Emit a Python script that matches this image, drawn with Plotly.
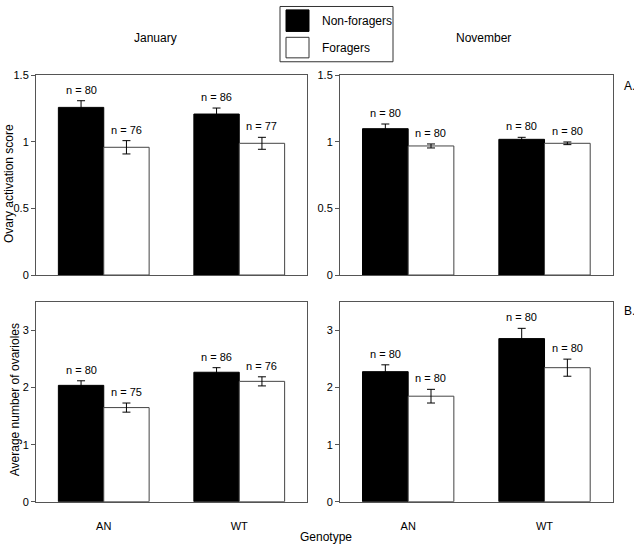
import plotly.graph_objects as go

# ---------------- data ----------------
genotypes = ["AN", "WT"]
series_names = ["Non-foragers", "Foragers"]
months = ["January", "November"]

# Ovary activation score
jan_act_nf = [1.26, 1.21]
jan_act_nf_err = [0.05, 0.045]
jan_act_f = [0.96, 0.99]
jan_act_f_err = [0.05, 0.045]
nov_act_nf = [1.10, 1.02]
nov_act_nf_err = [0.035, 0.015]
nov_act_f = [0.97, 0.99]
nov_act_f_err = [0.015, 0.01]

# Average number of ovarioles
jan_ova_nf = [2.04, 2.27]
jan_ova_nf_err = [0.08, 0.08]
jan_ova_f = [1.65, 2.11]
jan_ova_f_err = [0.08, 0.08]
nov_ova_nf = [2.28, 2.86]
nov_ova_nf_err = [0.12, 0.18]
nov_ova_f = [1.85, 2.35]
nov_ova_f_err = [0.12, 0.15]

# sample sizes
jan_act_nf_n = [80, 86]
jan_act_f_n = [76, 77]
nov_act_nf_n = [80, 80]
nov_act_f_n = [80, 80]
jan_ova_nf_n = [80, 86]
jan_ova_f_n = [75, 76]
nov_ova_nf_n = [80, 80]
nov_ova_f_n = [80, 80]

# ---------------- figure ----------------
W, H = 634, 551
FONT = "Liberation Sans, Arial, Helvetica, sans-serif"
AXC = "#555555"

fig = go.Figure()

panels = [
    ("x", "y", jan_act_nf, jan_act_nf_err, jan_act_nf_n, jan_act_f, jan_act_f_err, jan_act_f_n),
    ("x2", "y2", nov_act_nf, nov_act_nf_err, nov_act_nf_n, nov_act_f, nov_act_f_err, nov_act_f_n),
    ("x3", "y3", jan_ova_nf, jan_ova_nf_err, jan_ova_nf_n, jan_ova_f, jan_ova_f_err, jan_ova_f_n),
    ("x4", "y4", nov_ova_nf, nov_ova_nf_err, nov_ova_nf_n, nov_ova_f, nov_ova_f_err, nov_ova_f_n),
]

annotations = []
for i, (xa, ya, nf, nfe, nfn, f, fe, fn) in enumerate(panels):
    for name, vals, errs, ns, fill, lc, shift in [
        (series_names[0], nf, nfe, nfn, "black", "black", -22.7),
        (series_names[1], f, fe, fn, "white", "#444444", 22.7),
    ]:
        fig.add_trace(go.Bar(
            x=genotypes, y=vals, name=name, xaxis=xa, yaxis=ya,
            marker=dict(color=fill, line=dict(color=lc, width=1)),
            error_y=dict(type="data", array=errs, visible=True,
                         color="black", thickness=1, width=4),
            showlegend=False, offsetgroup=name,
        ))
        for g, v, e, n in zip(genotypes, vals, errs, ns):
            annotations.append(dict(
                x=g, y=v + e, xref=xa, yref=ya, xshift=shift, yshift=3,
                yanchor="bottom", xanchor="center", showarrow=False,
                text=f"n = {n}", font=dict(size=11, color="black", family=FONT),
            ))

def xd(a, b):
    return [a / W, b / W]

def yd(top, bottom):
    return [(H - bottom) / H, (H - top) / H]

xl = xd(36, 307)
xr = xd(340, 612.7)
yt = yd(71, 275)
yb = yd(302.7, 506.7)

common_x = dict(showline=True, mirror=True, linecolor=AXC, linewidth=1,
                showgrid=False, zeroline=False, ticks="", range=[-0.5, 1.5],
                tickfont=dict(size=11, color="black", family=FONT))
common_y = dict(showline=True, mirror=True, linecolor=AXC, linewidth=1,
                showgrid=False, zeroline=False, ticks="outside", ticklen=4,
                tickcolor=AXC, tickfont=dict(size=11, color="black", family=FONT))

fig.update_layout(
    width=W, height=H,
    margin=dict(l=0, r=0, t=0, b=0),
    paper_bgcolor="white", plot_bgcolor="white",
    barmode="group", bargap=0.33, bargroupgap=0,
    font=dict(family=FONT, size=11, color="black"),
    xaxis=dict(domain=xl, anchor="y", showticklabels=False, **common_x),
    xaxis2=dict(domain=xr, anchor="y2", showticklabels=False, **common_x),
    xaxis3=dict(domain=xl, anchor="y3", showticklabels=True, ticklabelstandoff=14, **common_x),
    xaxis4=dict(domain=xr, anchor="y4", showticklabels=True, ticklabelstandoff=14, **common_x),
    yaxis=dict(domain=yt, anchor="x", range=[0, 1.5], tickvals=[0, 0.5, 1, 1.5], **common_y),
    yaxis2=dict(domain=yt, anchor="x2", range=[0, 1.5], tickvals=[0, 0.5, 1, 1.5], **common_y),
    yaxis3=dict(domain=yb, anchor="x3", range=[0, 3.5], tickvals=[0, 1, 2, 3], **common_y),
    yaxis4=dict(domain=yb, anchor="x4", range=[0, 3.5], tickvals=[0, 1, 2, 3], **common_y),
)

def px(x, y):
    return x / W, (H - y) / H

def text(x, y, s, size=12, angle=0, xanchor="center"):
    xx, yy = px(x, y)
    annotations.append(dict(x=xx, y=yy, xref="paper", yref="paper", text=s,
                            showarrow=False, textangle=angle, xanchor=xanchor,
                            yanchor="middle",
                            font=dict(size=size, color="black", family=FONT)))

text(155, 33, months[0])
text(483, 33, months[1])
text(9, 182, "Ovary activation score", size=12, angle=-90)
text(15, 403, "Average number of ovarioles", size=12, angle=-90)
text(326, 543, "Genotype", size=12)
text(622, 82, "A.", size=12, xanchor="left")
text(622, 312, "B.", size=12, xanchor="left")

# custom legend
shapes = []
def rect(x0, y0, x1, y1, fill, line):
    a0, b0 = px(x0, y0)
    a1, b1 = px(x1, y1)
    shapes.append(dict(type="rect", xref="paper", yref="paper",
                       x0=a0, y0=b1, x1=a1, y1=b0, fillcolor=fill,
                       line=dict(color=line, width=1)))

rect(280, 0.5, 393, 57, "white", "#333333")
rect(286, 4, 309, 26, "black", "black")
rect(286, 32, 309, 53, "white", "#333333")
text(320, 15, series_names[0], size=12, xanchor="left")
text(320, 43, series_names[1], size=12, xanchor="left")

fig.update_layout(annotations=annotations, shapes=shapes)

fig.write_html("out.html",
               config={"displayModeBar": False},
               post_script="document.body.style.margin='0';document.body.style.overflow='hidden';")
